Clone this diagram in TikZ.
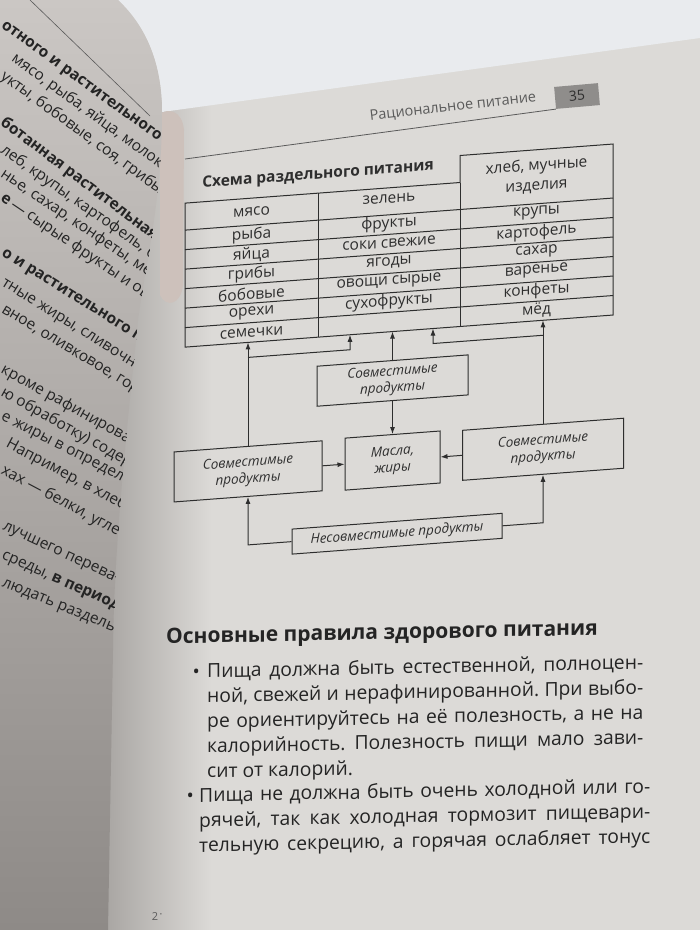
\documentclass[tikz,border=0pt]{standalone}
\usepackage{fontspec}
\setmainfont{Open Sans}
\usetikzlibrary{arrows.meta}

\definecolor{pagebg}{HTML}{DCDAD7}
\definecolor{skybg}{HTML}{E9EBEE}
\definecolor{lefttop}{HTML}{CBC7C4}
\definecolor{leftbot}{HTML}{8E8A87}
\definecolor{gutter}{HTML}{A6A3A0}
\definecolor{skin}{HTML}{CDC1BB}
\definecolor{ink}{HTML}{2E2E2E}
\definecolor{bodyink}{HTML}{242424}
\definecolor{headink}{HTML}{5A5A5A}
\definecolor{numfill}{HTML}{8F8D8B}

\begin{document}
\frenchspacing
\begin{tikzpicture}[x=1pt, y=-1pt,
        cell/.style={font=\fontsize{15.5}{20}\selectfont, text=ink, inner sep=0pt, align=center},
        caption/.style={font=\fontsize{15.5}{19}\selectfont\bfseries, text=ink, inner sep=0pt},
        grid/.style={draw=ink, line width=1pt},
        prodbox/.style={draw=ink, line width=1pt, font=\fontsize{13.5}{16.5}\selectfont\itshape, text=ink, align=center, inner sep=0pt},
        arr/.style={draw=ink, line width=1pt, -{Latex[length=7pt, width=5pt]}},
        leftline/.style={font=\fontsize{15.5}{18}\selectfont, text=bodyink, anchor=west, inner sep=0pt},
        leftbold/.style={leftline, font=\fontsize{15.5}{18}\selectfont\bfseries},
        body/.style={font=\fontsize{19.3}{25}\selectfont, text=bodyink, inner sep=0pt, align=justify, anchor=base west},
        dotmark/.style={font=\fontsize{19.3}{25}\selectfont, text=bodyink, inner sep=0pt, anchor=base east},
        numbox/.style={fill=numfill, text=ink, font=\fontsize{14}{16}\selectfont, minimum width=44, minimum height=22, inner sep=0pt},
        headrule/.style={draw=headink, line width=0.8pt}]
        \useasboundingbox (0, 0) rectangle (700, 930);

        \fill[pagebg] (0, 0) rectangle (700, 930);
        \shade[left color=gutter, right color=pagebg] (100, 100) rectangle (212, 930);
        \fill[skybg] (118, 0) -- (700, 0) -- (700, 38) -- (162, 112)
            .. controls (162, 70) and (150, 30) .. (118, 0);
        \fill[skin] (160, 114) .. controls (168, 108) and (182, 110) .. (184, 130)
            -- (183, 285) .. controls (181, 305) and (166, 308) .. (160, 295) -- cycle;
        \shade[top color=lefttop, bottom color=leftbot] (0, 0) -- (118, 0)
            .. controls (150, 30) and (162, 70) .. (162, 112)
            .. controls (162, 200) and (146, 260) .. (138, 320)
            .. controls (128, 420) and (114, 540) .. (113, 650) -- (108, 930) -- (0, 930) -- cycle;

        \begin{scope}
            \clip (0, 0) -- (118, 0)
                .. controls (150, 30) and (162, 70) .. (162, 112)
                .. controls (162, 200) and (146, 260) .. (138, 320)
                .. controls (128, 420) and (114, 540) .. (113, 650) -- (108, 930) -- (0, 930) -- cycle;
            \draw[headink, line width=0.6pt] (30, 0) to (150, 116);
            \node[leftbold, rotate=-36] at (2, 25)(l1){отного и растительного пр};
            \node[leftline, rotate=-36] at (13, 57)(l2){мясо, рыба, яйца, молоко};
            \node[leftline, rotate=-36] at (2, 75)(l3){укты, бобовые, соя, грибы};
            \node[leftbold, rotate=-37] at (2, 121)(l4){ботанная растительная};
            \node[leftline, rotate=-35] at (2, 149)(l5){леб, крупы, картофель, б};
            \node[leftline, rotate=-34] at (2, 173)(l6){нье, сахар, конфеты, мёд};
            \node[leftline, rotate=-34] at (2, 197)(l7){\textbf{е}\,— сырые фрукты и ов};
            \node[leftbold, rotate=-32] at (2, 253)(l8){о и растительного пр};
            \node[leftline, rotate=-32] at (2, 283)(l9){тные жиры, сливочное};
            \node[leftline, rotate=-31] at (2, 310)(l10){вное, оливковое, гор};
            \node[leftline, rotate=-29] at (2, 369)(l11){кроме рафинирован};
            \node[leftline, rotate=-29] at (2, 392)(l12){ю обработку) содер};
            \node[leftline, rotate=-27] at (2, 416)(l13){е жиры в определён};
            \node[leftline, rotate=-28] at (7, 443)(l14){Например, в хлебе};
            \node[leftline, rotate=-28] at (2, 470)(l15){хах — белки, угле};
            \node[leftline, rotate=-25] at (3, 527)(l16){лучшего перева-};
            \node[leftline, rotate=-24] at (2, 556)(l17){среды, \textbf{в период}};
            \node[leftline, rotate=-22] at (2, 584)(l18){людать раздель-};
        \end{scope}

        \node[numbox, rotate=5] at (577, 96)(pgno){35};
        \node[rotate=6.5, text=headink, font=\fontsize{14.5}{17}\selectfont, inner sep=0pt] at (453, 107)(runhead){Рациональное питание};
        \draw[headrule] (185, 159) to (pgno.south west);

        \begin{scope}[shift={(400, 0)}, yslant=0.075, shift={(-400, 0)}, transform shape]
            \node[caption] at (318, 169)(caption){Схема раздельного питания};

            \draw[grid] (185, 187) -- (460, 187) -- (460, 160) -- (613, 160) -- (613, 331) -- (185, 331) -- cycle;
            \coordinate (tabbot) at (400, 331);
            \draw[grid] (318, 187) to (318, 331);
            \draw[grid] (460, 187) to (460, 331);
                \draw[grid] (185, 214) to (613, 214);
                \draw[grid] (185, 233.5) to (613, 233.5);
                \draw[grid] (185, 253) to (613, 253);
                \draw[grid] (185, 272.5) to (613, 272.5);
                \draw[grid] (185, 292) to (613, 292);
                \draw[grid] (185, 311.5) to (613, 311.5);

            \node[cell] at (251.5, 200.5)(myaso){мясо};
            \node[cell] at (251.5, 224)(ryba){рыба};
            \node[cell] at (251.5, 243.5)(yaitsa){яйца};
            \node[cell] at (251.5, 263)(griby){грибы};
            \node[cell] at (251.5, 282.5)(bobovye){бобовые};
            \node[cell] at (251.5, 302)(orekhi){орехи};
            \node[cell] at (251.5, 321.5)(semechki){семечки};

            \node[cell] at (389, 198)(zelen){зелень};
            \node[cell] at (389, 223)(frukty){фрукты};
            \node[cell] at (389, 242.5)(soki){соки свежие};
            \node[cell] at (389, 262)(yagody){ягоды};
            \node[cell] at (389, 281.5)(ovoshchi){овощи сырые};
            \node[cell] at (389, 301)(sukhofrukty){сухофрукты};

            \node[cell] at (536.5, 186)(khleb){хлеб, мучные\\изделия};
            \node[cell] at (536.5, 223)(krupy){крупы};
            \node[cell] at (536.5, 242.5)(kartofel){картофель};
            \node[cell] at (536.5, 262)(sakhar){сахар};
            \node[cell] at (536.5, 281.5)(varenye){варенье};
            \node[cell] at (536.5, 301)(konfety){конфеты};
            \node[cell] at (536.5, 320.5)(myod){мёд};

            \node[prodbox, minimum width=151, minimum height=40] at (392.5, 380)(sovT){Совместимые\\продукты};
            \node[prodbox, minimum width=95, minimum height=52] at (392.5, 460)(masla){Масла,\\жиры};
            \node[prodbox, minimum width=148, minimum height=50] at (248, 460)(sovL){Совместимые\\продукты};
            \node[prodbox, minimum width=161, minimum height=50] at (543, 460)(sovR){Совместимые\\продукты};
            \node[prodbox, minimum width=210, minimum height=25] at (397, 533.5)(nesov){Несовместимые продукты};

            \coordinate (jl) at (350, 346);
            \coordinate (jr) at (433, 346);

            \draw[arr] (sovT.south) to (masla.north);
            \draw[arr] (sovL.east) to (masla.west);
            \draw[arr] (sovR.west) to (masla.east);
            \draw[arr] (nesov.west) -| (sovL.south);
            \draw[arr] (nesov.east) -| (sovR.south);
            \draw[arr] (sovL.north) to (sovL.north |- tabbot);
            \draw[arr] (sovL.north |- jl) -| (jl |- tabbot);
            \draw[arr] (sovT.north) to (sovT.north |- tabbot);
            \draw[arr] (sovR.north) to (sovR.north |- tabbot);
            \draw[arr] (sovR.north |- jr) -| (jr |- tabbot);
        \end{scope}

        \begin{scope}[shift={(400, 0)}, yslant=0.02, shift={(-400, 0)}, transform shape]
            \node[font=\fontsize{21}{24}\selectfont\bfseries, text=bodyink, inner sep=0pt, anchor=base west] at (166, 639)(rules){Основные правила здорового питания};

            \node[dotmark] at (200, 674)(dot1){•};
            \node[body, text width=436pt] at (207, 674)(rule1){Пища должна быть естественной, полноцен-\linebreak ной, свежей и нерафинированной. При выбо-\linebreak ре ориентируйтесь на её полезность, а не на\linebreak калорийность. Полезность пищи мало зави-\linebreak сит от калорий.};

            \node[dotmark] at (194, 798)(dot2){•};
            \node[body, text width=451pt] at (199, 798)(rule2){Пища не должна быть очень холодной или го-\linebreak рячей, так как холодная тормозит пищевари-\linebreak тельную секрецию, а горячая ослабляет тонус\linebreak\mbox{}};
        \end{scope}

        \node[text=headink, font=\fontsize{11}{12}\selectfont, inner sep=0pt] at (157, 917)(pgfoot){2\,{\fontsize{6}{6}\selectfont\raisebox{4pt}{•}}};
\end{tikzpicture}
\end{document}
